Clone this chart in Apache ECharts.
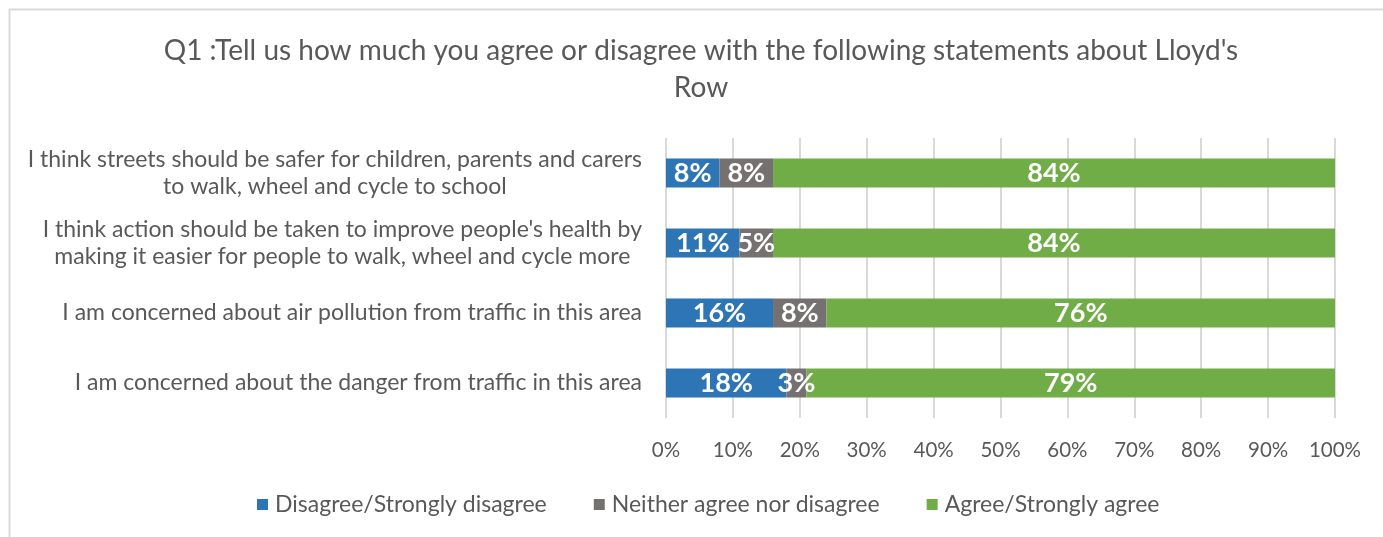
<!DOCTYPE html>
<html>
<head>
<meta charset="utf-8">
<script src="https://cdn.jsdelivr.net/npm/echarts@6/dist/echarts.min.js"></script>
<style>
  html, body { margin: 0; padding: 0; background: #ffffff; }
  #chart { width: 1383px; height: 537px; }
</style>
</head>
<body>
<div id="chart"></div>
<script>
// Survey statements (top to bottom)
const statements = [
  "I think streets should be safer for children, parents and carers\nto walk, wheel and cycle to school",
  "I think action should be taken to improve people's health by\nmaking it easier for people to walk, wheel and cycle more",
  "I am concerned about air pollution from traffic in this area",
  "I am concerned about the danger from traffic in this area"
];

// Response shares, percent
const disagree = [8, 11, 16, 18];
const neither  = [8, 5, 8, 3];
const agree    = [84, 84, 76, 79];

const seriesNames = ["Disagree/Strongly disagree", "Neither agree nor disagree", "Agree/Strongly agree"];
const seriesColors = ["#2e75b6", "#767171", "#70ad47"];

const titleLines = ["Q1 :Tell us how much you agree or disagree with the following statements about Lloyd's", "Row"];

const FONT = "Lato, 'Liberation Sans', sans-serif";
const TEXT = "#595959";

const chart = echarts.init(document.getElementById("chart"));

function barSeries(name, data, color) {
  return {
    name: name,
    type: "bar",
    stack: "total",
    barWidth: 29,
    data: data,
    itemStyle: { color: color },
    label: {
      show: true,
      position: "inside",
      color: "#ffffff",
      fontFamily: FONT,
      fontWeight: "bold",
      fontSize: 27,
      formatter: p => p.value + "%"
    },
    emphasis: { disabled: true }
  };
}

// Title lines are centred on the chart's visual middle (x = 701)
function titleLine(text, top) {
  return {
    text: text,
    left: 701,
    textAlign: "center",
    top: top,
    padding: 0,
    textStyle: {
      fontFamily: FONT,
      fontWeight: "normal",
      fontSize: 28,
      color: TEXT
    }
  };
}

chart.setOption({
  animation: false,
  backgroundColor: "#ffffff",
  title: [titleLine(titleLines[0], 37), titleLine(titleLines[1], 74)],
  legend: {
    bottom: 16,
    left: 252,
    itemWidth: 11,
    itemHeight: 11,
    itemGap: 47,
    icon: "rect",
    textStyle: { fontFamily: FONT, fontSize: 23, color: TEXT, padding: [0, 0, 0, 2] },
    data: seriesNames
  },
  grid: { left: 666, right: 48, top: 138, bottom: 119, containLabel: false },
  xAxis: {
    type: "value",
    min: 0,
    max: 100,
    interval: 10,
    axisLine: { show: false },
    axisTick: { show: false },
    splitLine: { lineStyle: { color: "#d9d9d9", width: 2 } },
    axisLabel: {
      fontFamily: FONT,
      fontSize: 20.5,
      color: TEXT,
      margin: 22,
      formatter: v => v + "%"
    }
  },
  yAxis: {
    type: "category",
    inverse: true,
    data: statements,
    axisLine: { show: false },
    axisTick: { show: false },
    axisLabel: {
      margin: 24,
      formatter: v => v.split("\n").map(s => "{c|" + s + "}").join("\n"),
      rich: {
        c: {
          fontFamily: FONT,
          fontSize: 23,
          lineHeight: 27,
          color: TEXT,
          align: "center"
        }
      }
    }
  },
  graphic: [{
    type: "rect",
    shape: { x: 9.5, y: 9.5, width: 1500, height: 700 },
    style: { fill: null, stroke: "#d9d9d9", lineWidth: 2 },
    silent: true
  }],
  series: [
    barSeries(seriesNames[0], disagree, seriesColors[0]),
    barSeries(seriesNames[1], neither, seriesColors[1]),
    barSeries(seriesNames[2], agree, seriesColors[2])
  ]
});
</script>
</body>
</html>
